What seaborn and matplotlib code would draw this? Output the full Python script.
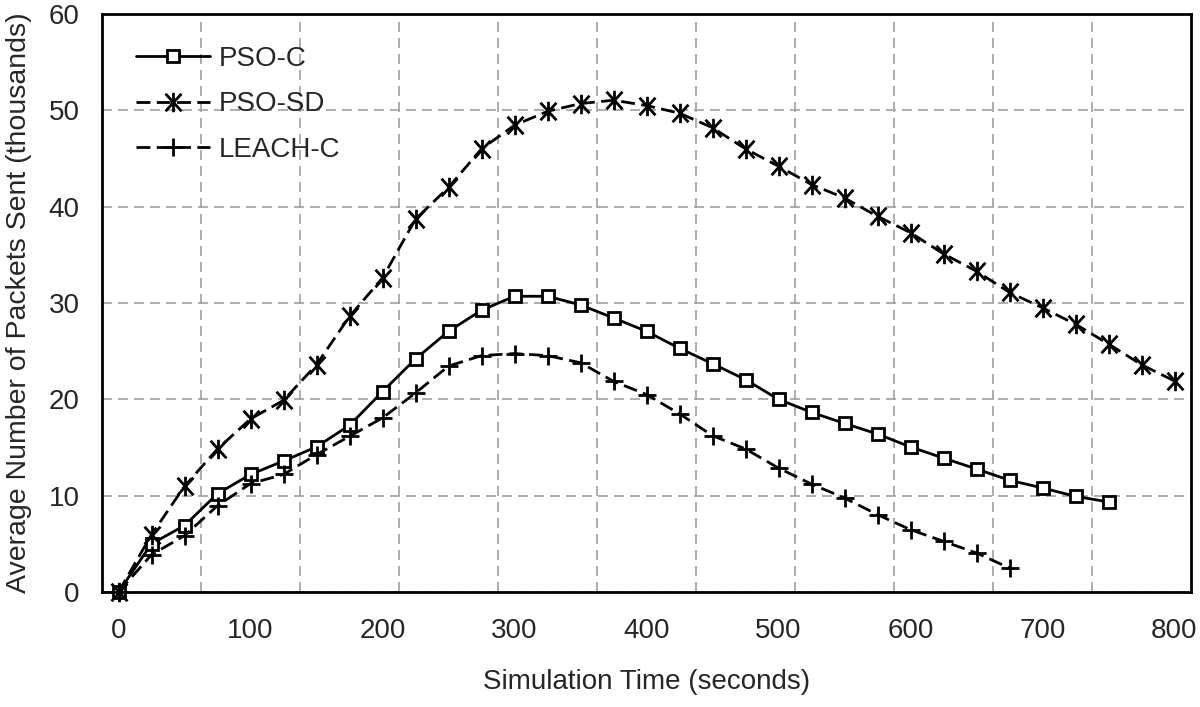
import numpy as np
import pandas as pd
import seaborn as sns
import matplotlib.pyplot as plt
from matplotlib.path import Path

# sample times (seconds), one point every 25 s
times = list(range(0, 801, 25))

# average packets sent (thousands)
pso_c = [0, 5.0, 6.9, 10.2, 12.2, 13.6, 15.07, 17.3, 20.8, 24.2, 27.06, 29.25,
         30.7, 30.7, 29.8, 28.45, 27.06, 25.3, 23.7, 22.05, 20.0, 18.65, 17.5,
         16.4, 15.06, 13.9, 12.77, 11.6, 10.8, 9.93, 9.35]
pso_sd = [0, 5.95, 10.97, 14.85, 17.96, 19.9, 23.6, 28.6, 32.6, 38.7, 42.0, 46.0,
          48.45, 49.9, 50.7, 51.05, 50.5, 49.7, 48.2, 46.0, 44.2, 42.3, 40.9,
          39.0, 37.3, 35.1, 33.3, 31.1, 29.5, 27.8, 25.75, 23.6, 21.9]
leach_c = [0, 3.87, 5.85, 8.96, 11.25, 12.2, 14.26, 16.16, 18.07, 20.66, 23.45,
           24.54, 24.75, 24.54, 23.8, 21.87, 20.5, 18.5, 16.23, 14.85, 12.87,
           11.2, 9.76, 8.03, 6.47, 5.26, 4.05, 2.49]

x_ticks = [0, 100, 200, 300, 400, 500, 600, 700, 800]
y_ticks = [0, 10, 20, 30, 40, 50, 60]

sns.set_style("white")
plt.rcParams["font.family"] = ["Liberation Sans", "DejaVu Sans"]
plt.rcParams["font.size"] = 20

# excel-like star marker: vertical bar with an X through it
star = Path([(0, -1), (0, 1), (-0.82, -0.9), (0.82, 0.9), (-0.82, 0.9), (0.82, -0.9)],
            [Path.MOVETO, Path.LINETO] * 3)


def frame(vals):
    return pd.DataFrame({"time": times[:len(vals)], "packets": vals})


fig = plt.figure(figsize=(12, 7.07), dpi=100)
ax = fig.add_axes([102 / 1200, 1 - 592 / 707, 1089 / 1200, 578 / 707])

common = dict(ax=ax, x="time", y="packets", color="black", lw=2, errorbar=None,
              markeredgecolor="black", markeredgewidth=2, clip_on=False, zorder=3)
dash = (0, (5, 2.3))

sns.lineplot(data=frame(pso_c), marker="s", markersize=8.5, markerfacecolor="white",
             label="PSO-C", **common)
sns.lineplot(data=frame(pso_sd), marker=star, markersize=14, markerfacecolor="none",
             linestyle=dash, label="PSO-SD", **common)
sns.lineplot(data=frame(leach_c), marker="+", markersize=12.5,
             linestyle=dash, label="LEACH-C", **common)

ax.set_xlim(-12.5, 812.5)
ax.set_ylim(0, 60)
ax.set_xticks(x_ticks)
ax.set_xticks(np.arange(62.5, 800, 75), minor=True)
ax.set_yticks(y_ticks)

grid_kw = dict(color="#a0a0a0", lw=1.2, linestyle=(0, (6, 3.6)))
ax.grid(False)
ax.xaxis.grid(True, which="minor", **grid_kw)
ax.yaxis.grid(True, which="major", **grid_kw)
ax.set_axisbelow(True)

ax.tick_params(which="both", length=0)
ax.tick_params(axis="x", pad=19, labelsize=20)
ax.tick_params(axis="y", pad=16, labelsize=20)
for s in ax.spines.values():
    s.set_visible(True)
    s.set_color("black")
    s.set_linewidth(2)

ax.set_xlabel("Simulation Time (seconds)", fontsize=20, labelpad=18)
ax.set_ylabel("Average Number of Packets Sent (thousands)", fontsize=20.5, labelpad=12)

ax.legend(loc="upper left", bbox_to_anchor=(0.031, 0.945), frameon=False,
          borderpad=0, borderaxespad=0, handlelength=2.66, handletextpad=0.32,
          labelspacing=0.7, fontsize=20)

fig.savefig("out.png", dpi=100)
